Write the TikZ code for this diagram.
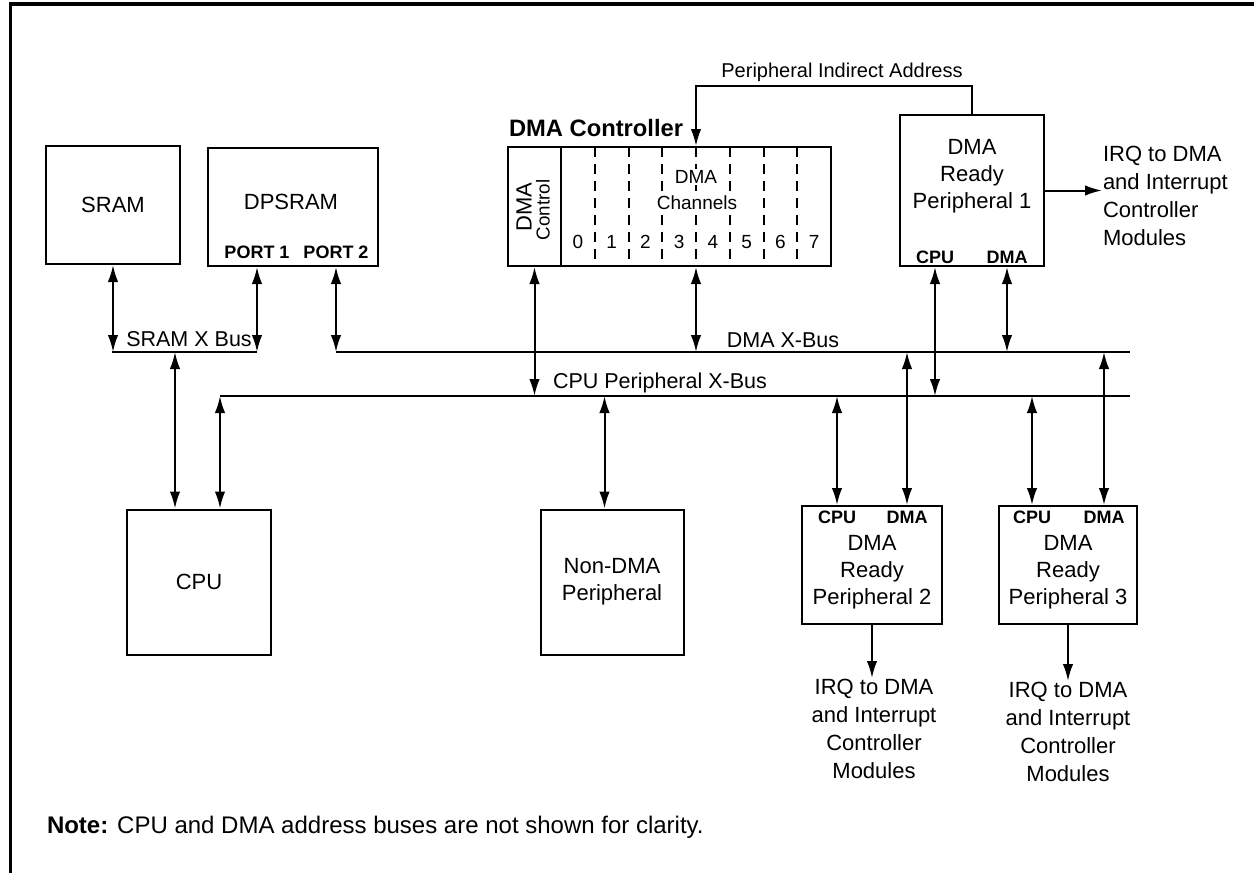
\documentclass[tikz,border=0pt]{standalone}
\usepackage{fontspec}
\setmainfont{Liberation Sans}
\usetikzlibrary{arrows.meta}

\begin{document}
\begin{tikzpicture}[x=0.4pt, y=-0.4pt, line width=0.8pt,
	>={Latex[length=6.8pt,width=4.2pt]},
	blk/.style={draw, inner sep=0pt, align=center, font=\fontsize{8.8}{10.8}\selectfont},
	txt/.style={inner sep=0pt, align=center, font=\fontsize{8.8}{10.8}\selectfont},
	lbl/.style={inner sep=0pt, font=\fontsize{8.6}{10.4}\selectfont},
	port/.style={inner sep=0pt, font=\bfseries\fontsize{7.2}{8}\selectfont},
	irq/.style={inner sep=0pt, align=center, font=\fontsize{8.8}{11.2}\selectfont},
	chtxt/.style={inner sep=0.5pt, font=\fontsize{7.6}{8}\selectfont},
	bus/.style={<->}]
	  \useasboundingbox (0,0) rectangle (1254,873);
	  \draw[line width=1.2pt] (1254,4) -- (10,4) -- (10,873);
	  % memories
	  \node[blk, minimum width=53.6pt, minimum height=47.2pt] (sram) at (113,205) {SRAM};
	  \node[blk, minimum width=68pt, minimum height=47.2pt] (dpsram) at (293,207) {};
	  \node[txt] (dpsramtxt) at (291,202) {DPSRAM};
	  \node[port] (port1) at (257,252) {PORT 1};
	  \node[port] (port2) at (336,252) {PORT 2};
	  % buses
	  \coordinate (sbusw) at (112,352);
	  \coordinate (sbuse) at (257,352);
	  \coordinate (stap) at (175,352);
	  \coordinate (dmabusw) at (336,352);
	  \coordinate (dmabuse) at (1130,352);
	  \coordinate (cpubusw) at (220,396);
	  \coordinate (cpubuse) at (1130,396);
	  \draw (sbusw) -- (sbuse);
	  \draw (dmabusw) -- (dmabuse);
	  \draw (cpubusw) -- (cpubuse);
	  \node[lbl] (sbuslbl) at (189,339) {SRAM X Bus};
	  \node[lbl] (dmabuslbl) at (783,340) {DMA X-Bus};
	  \node[lbl] (cpubuslbl) at (660,383) {CPU Peripheral X-Bus};
	  \draw[bus] (sram.south) -- (sram.south |- sbusw);
	  \draw[bus] (port1 |- dpsram.south) -- (port1 |- sbusw);
	  \draw[bus] (port2 |- dpsram.south) -- (port2 |- dmabusw);
	  % cpu and non-dma peripheral
	  \node[blk, minimum width=57.6pt, minimum height=58pt] (cpu) at (199,582) {CPU};
	  \node[blk, minimum width=57.2pt, minimum height=58pt] (nondma) at (612,582) {Non-DMA\\Peripheral};
	  \draw[bus] (stap) -- (stap |- cpu.north);
	  \draw[bus] (cpubusw) -- (cpubusw |- cpu.north);
	  \draw[bus] ([xshift=-3pt]nondma.north |- cpubusw) -- ([xshift=-3pt]nondma.north);
	  % dma controller
	  \node[anchor=west, inner sep=0pt, font=\bfseries\fontsize{9.5}{11}\selectfont] (dmactitle) at (508,128) {DMA Controller};
	  \node[blk, minimum width=21.2pt, minimum height=47.6pt] (dmactl) at (534.5,206.5) {};
	  \node[rotate=90, inner sep=0pt, font=\fontsize{8.8}{9}\selectfont] (dmactltxt) at (524,207) {DMA};
	  \node[rotate=90, inner sep=0pt, font=\fontsize{7.5}{8}\selectfont] (dmactlsub) at (543,210) {Control};
	  \node[blk, minimum width=108pt, minimum height=47.6pt] (dmach) at (696,206.5) {};
	  \foreach \i in {1,...,7}
	  {
		\draw[dash pattern=on 4pt off 2.8pt] (561+33.75*\i,147) -- (561+33.75*\i,266);
	  }
	  \foreach \n in {0,...,7}
	  {
		\node[chtxt] (ch\n) at (578+33.75*\n,242) {\n};
	  }
	  \node[chtxt, fill=white] (chlbla) at (696,177) {DMA};
	  \node[chtxt, fill=white] (chlblb) at (697,203) {Channels};
	  \draw[bus] (dmactl.south) -- (dmactl.south |- cpubusw);
	  \draw[bus] (dmach.south) -- (dmach.south |- dmabusw);
	  % dma ready peripherals
	  \node[blk, minimum width=57.6pt, minimum height=60.4pt] (p1) at (972,190.5) {};
	  \node[txt] (p1txt) at (972,176) {DMA\\Ready\\Peripheral 1};
	  \node[port] (p1cpu) at (935,257) {CPU};
	  \node[port] (p1dma) at (1007,257) {DMA};
	  \draw[bus] (p1cpu |- p1.south) -- (p1cpu |- cpubusw);
	  \draw[bus] (p1dma |- p1.south) -- (p1dma |- dmabusw);
	  \draw[->] (p1.north) -- ++(0,-28) -| (dmach.north);
	  \node[lbl, font=\fontsize{8}{10}\selectfont] (pilbl) at (842,72) {Peripheral Indirect Address};
	  \node[irq, anchor=west, align=left] (irq1) at (1102,196) {IRQ to DMA\\and Interrupt\\Controller\\Modules};
	  \draw[->] (p1.east) -- (p1.east -| irq1.west);
	  \node[blk, minimum width=56pt, minimum height=47.2pt] (p2) at (872,565) {};
	  \node[txt] (p2txt) at (872,572) {DMA\\Ready\\Peripheral 2};
	  \node[port] (p2cpu) at (837,517) {CPU};
	  \node[port] (p2dma) at (907,517) {DMA};
	  \draw[bus] (p2cpu |- cpubusw) -- (p2cpu |- p2.north);
	  \draw[bus] (p2dma |- dmabusw) -- (p2dma |- p2.north);
	  \node[irq, anchor=north] (irq2) at (874,678) {IRQ to DMA\\and Interrupt\\Controller\\Modules};
	  \draw[->] (p2.south) -- (p2.south |- irq2.north);
	  \node[blk, minimum width=55.2pt, minimum height=47.2pt] (p3) at (1068,565) {};
	  \node[txt] (p3txt) at (1068,572) {DMA\\Ready\\Peripheral 3};
	  \node[port] (p3cpu) at (1032,517) {CPU};
	  \node[port] (p3dma) at (1104,517) {DMA};
	  \draw[bus] (p3cpu |- cpubusw) -- (p3cpu |- p3.north);
	  \draw[bus] (p3dma |- dmabusw) -- (p3dma |- p3.north);
	  \node[irq, anchor=north] (irq3) at (1068,681) {IRQ to DMA\\and Interrupt\\Controller\\Modules};
	  \draw[->] (p3.south) -- (p3.south |- irq3.north);
	  % note
	  \node[lbl, anchor=west, font=\fontsize{9.6}{11.6}\selectfont] (note) at (46,827) {\textbf{Note:} CPU and DMA address buses are not shown for clarity.};
	\end{tikzpicture}
\end{document}
